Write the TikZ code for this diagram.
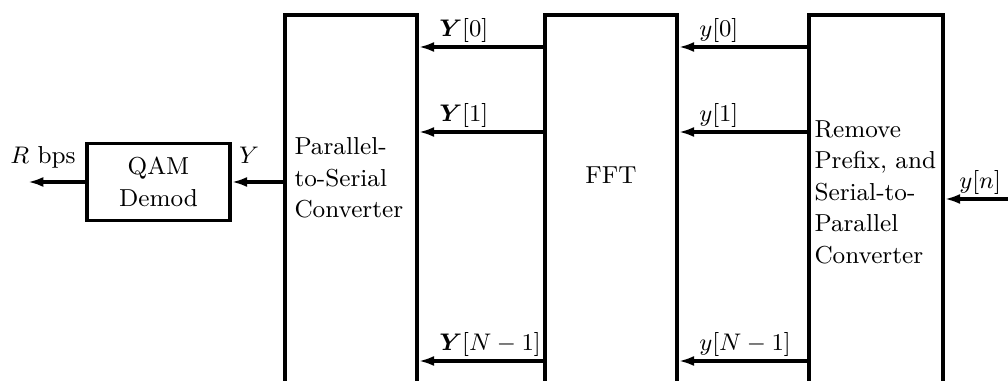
\documentclass[tikz,border=0pt]{standalone}
\usepackage{amsmath,bm}
\usetikzlibrary{arrows.meta,calc}
\newcommand\pxu{0.375pt}
\begin{document}
\begin{tikzpicture}[x=0.375pt,y=-0.375pt,
  every node/.style={font=\fontsize{9.2}{11.8}\selectfont},
  blk/.style={draw, line width=1.3pt, inner sep=0pt},
  arr/.style={line width=1.3pt, -{Latex[length=5.8pt,width=3.8pt]}},
  lab/.style={inner sep=0pt, anchor=south west},
  txt/.style={inner sep=0pt, align=left, anchor=west}]
\useasboundingbox (0,0) rectangle (1008,381);
\clip (0,0) rectangle (1008,381);
% blocks
\node[blk, align=center, minimum width=143*\pxu, minimum height=77*\pxu] (qam) at (158.5,182) {QAM\\Demod};
\node[blk, minimum width=132*\pxu, minimum height=400*\pxu] (p2s) at (351,215) {};
\node[blk, minimum width=132*\pxu, minimum height=400*\pxu] (fft) at (611,215) {};
\node[blk, minimum width=134*\pxu, minimum height=400*\pxu] (rem) at (876,215) {};
% block texts
\node[txt] (p2stxt) at (294,178) {Parallel-\\to-Serial\\Converter};
\node[inner sep=0pt] (ffttxt) at (611,175) {FFT};
\node[txt] (remtxt) at (814,192) {Remove\\Prefix, and\\Serial-to-\\Parallel\\Converter};
% rows
\coordinate (r0) at (0,47);
\coordinate (r1) at (0,132);
\coordinate (r2) at (0,361);
\coordinate (in) at (1012,199);
\coordinate (out) at (28,182);
% connectors
\draw[arr] (fft.west |- r0) -- (p2s.east |- r0);
\draw[arr] (fft.west |- r1) -- (p2s.east |- r1);
\draw[arr] (fft.west |- r2) -- (p2s.east |- r2);
\draw[arr] (rem.west |- r0) -- (fft.east |- r0);
\draw[arr] (rem.west |- r1) -- (fft.east |- r1);
\draw[arr] (rem.west |- r2) -- (fft.east |- r2);
\draw[arr] (in) -- (rem.east |- in);
\draw[arr] (p2s.west |- qam.east) -- (qam.east);
\draw[arr] (qam.west) -- (out |- qam.west);
% labels
\node[lab] (lY0) at ($(p2s.east |- r0)+(20,-4)$) {$\bm{Y}[0]$};
\node[lab] (lY1) at ($(p2s.east |- r1)+(20,-4)$) {$\bm{Y}[1]$};
\node[lab] (lYN) at ($(p2s.east |- r2)+(20,-4)$) {$\bm{Y}[N-1]$};
\node[lab] (ly0) at ($(fft.east |- r0)+(20,-4)$) {$y[0]$};
\node[lab] (ly1) at ($(fft.east |- r1)+(20,-4)$) {$y[1]$};
\node[lab] (lyN) at ($(fft.east |- r2)+(20,-4)$) {$y[N-1]$};
\node[lab] (lyn) at ($(rem.east |- in)+(14,-4)$) {$y[n]$};
\node[anchor=base, inner sep=0pt] (lY) at (249,164) {$Y$};
\node[anchor=base, inner sep=0pt] (lR) at (43,164) {$R$ bps};
\end{tikzpicture}
\end{document}
